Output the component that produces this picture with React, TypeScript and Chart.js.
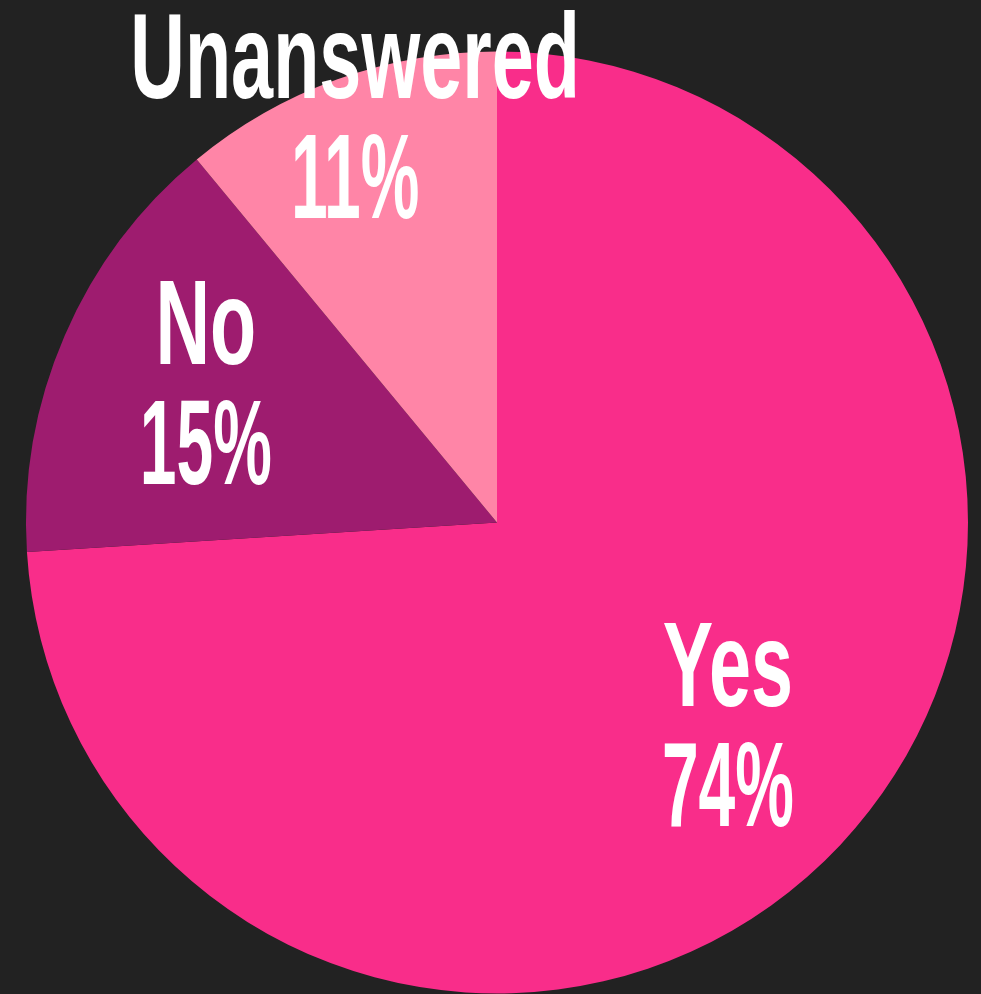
import React, { useEffect, useRef } from "react";
import { Chart, registerables } from "chart.js";

Chart.register(...registerables);

const categories = ["Yes", "No", "Unanswered"];
const values = [74, 15, 11];
const colors = ["#F92D8A", "#9E1C6F", "#FF85A7"];
const labelRadiusFractions = [0.65, 0.687, 0.916];
const labelAngleNudgeDeg = [-2.17, 2.45, 0.6];

const labelPlugin = {
  id: "sliceLabels",
  afterDatasetsDraw(chart: any) {
    const ctx = chart.ctx;
    const meta = chart.getDatasetMeta(0);
    const data = chart.data.datasets[0].data as number[];
    const total = data.reduce((a, b) => a + b, 0);
    meta.data.forEach((arc: any, i: number) => {
      const { x, y, startAngle, endAngle, outerRadius } = arc.getProps(
        ["x", "y", "startAngle", "endAngle", "outerRadius"],
        true
      );
      const mid = (startAngle + endAngle) / 2 + (labelAngleNudgeDeg[i] * Math.PI) / 180;
      const d = outerRadius * labelRadiusFractions[i];
      const cx = x + Math.cos(mid) * d;
      const cy = y + Math.sin(mid) * d;
      const pct = Math.round((data[i] / total) * 100) + "%";
      ctx.save();
      ctx.fillStyle = "#ffffff";
      ctx.font = "bold 120px 'Liberation Sans', Arial, sans-serif";
      ctx.textAlign = "center";
      ctx.textBaseline = "alphabetic";
      ctx.save();
      ctx.translate(cx, cy);
      ctx.scale(0.63, 1);
      ctx.fillText(chart.data.labels[i], 0, -17);
      ctx.restore();
      ctx.save();
      ctx.translate(cx, cy);
      ctx.scale(0.55, 1);
      ctx.fillText(pct, 0, 103);
      ctx.restore();
      ctx.restore();
    });
  },
};

export default function App() {
  const ref = useRef<HTMLCanvasElement>(null);
  useEffect(() => {
    if (!ref.current) return;
    const chart = new Chart(ref.current, {
      type: "pie",
      data: {
        labels: categories,
        datasets: [
          {
            data: values,
            backgroundColor: colors,
            borderWidth: 0,
          },
        ],
      },
      options: {
        responsive: false,
        animation: false,
        layout: { padding: { left: 26, right: 13, top: 51.5, bottom: 0.5 } },
        plugins: {
          legend: { display: false },
          tooltip: { enabled: false },
        },
      },
      plugins: [labelPlugin],
    });
    return () => chart.destroy();
  }, []);
  return (
    <div
      style={{
        position: "fixed",
        left: 0,
        top: 0,
        width: 981,
        height: 994,
        background: "#222222",
      }}
    >
      <canvas ref={ref} width={981} height={994} style={{ display: "block" }} />
    </div>
  );
}
